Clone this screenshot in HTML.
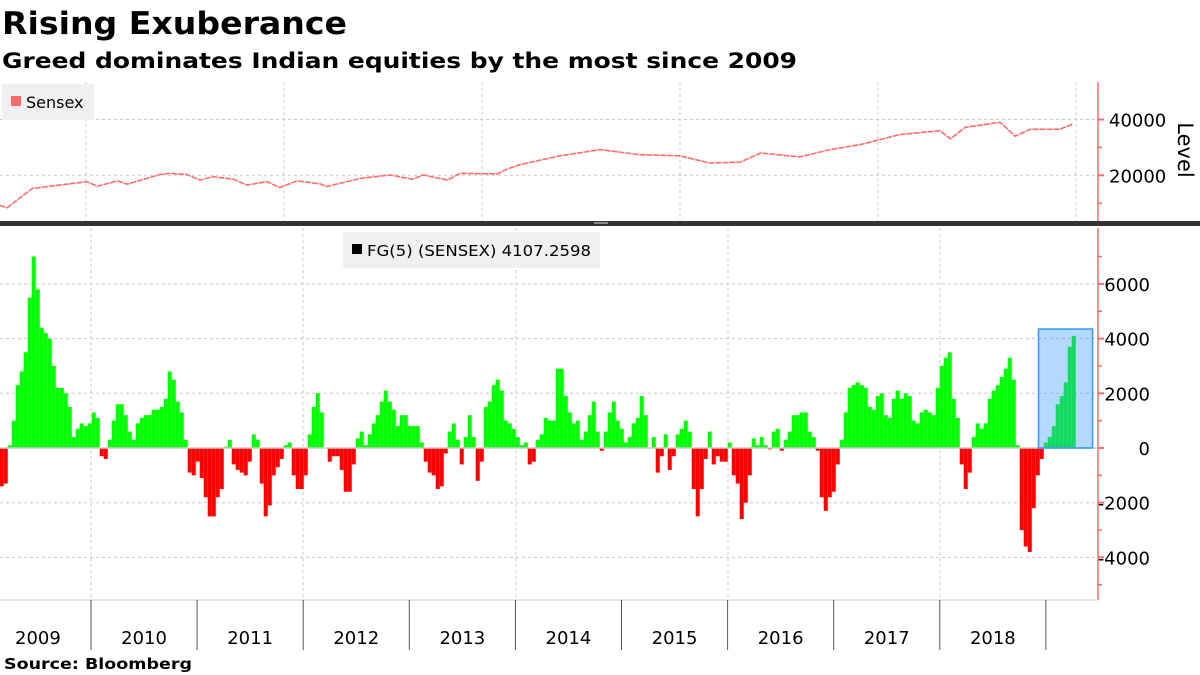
<!DOCTYPE html>
<html><head><meta charset="utf-8">
<style>
html,body{margin:0;padding:0;background:#fff;}
svg{display:block;font-family:"DejaVu Sans","Liberation Sans",sans-serif;}
</style></head>
<body>
<svg id="chart" width="1200" height="675" viewBox="0 0 1200 675" xmlns="http://www.w3.org/2000/svg">
<text x="2" y="34" font-size="31" font-weight="bold" textLength="345" lengthAdjust="spacingAndGlyphs">Rising Exuberance</text>
<text x="2" y="68" font-size="21" font-weight="bold" textLength="795" lengthAdjust="spacingAndGlyphs">Greed dominates Indian equities by the most since 2009</text>
<g id="topPanel"></g>
<g id="bottomPanel"></g>
<g id="xaxis"></g>
<text x="4" y="669" font-size="15" font-weight="bold" textLength="188" lengthAdjust="spacingAndGlyphs">Source: Bloomberg</text>
</svg>
<script>
const sensexYears=[2009.14,2009.21,2009.36,2009.45,2009.77,2009.96,2010.06,2010.25,2010.34,2010.65,2010.74,2010.90,2011.03,2011.15,2011.34,2011.47,2011.66,2011.78,2011.94,2012.16,2012.22,2012.54,2012.82,2013.03,2013.13,2013.36,2013.48,2013.83,2013.92,2014.04,2014.42,2014.80,2015.17,2015.55,2015.83,2016.12,2016.31,2016.68,2016.97,2017.25,2017.62,2018.00,2018.10,2018.24,2018.57,2018.71,2018.85,2019.13,2019.25];
const sensexValues=[9200,8400,12800,15300,16800,17700,16100,18000,16800,20300,20700,20300,18300,19500,18600,16500,17700,15600,18000,16900,16000,18900,20100,18600,20100,18300,20700,20500,22200,23800,27000,29200,27400,27000,24400,24700,28000,26600,29200,31000,34600,36000,33100,37200,39000,34000,36500,36500,38300];
const sensexTicks=[20000,40000];
const fgStartYear=2009.14;
const fgStepYears=0.0377;
const fgValues=[
-1.4,-1.3,0.1,1.0,2.3,2.8,3.5,5.5,7.0,5.8,4.4,4.2,4.0,3.0,2.2,2.2,2.0,1.5,0.4,0.7,0.9,0.8,0.9,1.3,1.1,-0.3,-0.4,0.3,1.0,1.6,1.6,1.2,0.6,0.3,0.9,1.1,1.2,1.2,1.4,1.4,1.5,1.8,2.8,2.5,1.7,1.3,0.3,-0.9,-1.0,-0.5,-1.1,-1.8,-2.5,-2.5,-1.8,-1.5,0.05,0.3,-0.6,-0.8,-0.9,-1.0,-0.5,0.5,0.3,-1.3,-2.5,-2.1,-1.0,-0.7,-0.4,0.1,0.2,-1.0,-1.5,-1.5,-1.0,0.5,1.5,2.0,1.3,0,-0.5,-0.3,-0.3,-0.8,-1.6,-1.6,-0.6,0.35,0.6,0.1,
0.5,0.9,1.2,1.7,2.1,1.7,1.4,0.8,1.2,1.2,0.8,0.8,0.8,0.2,-0.5,-0.9,-1.0,-1.5,-1.4,-0.2,0.6,0.9,0.3,-0.6,0.4,1.2,0.4,-1.2,-0.5,1.5,1.7,2.3,2.5,2.1,1.0,0.9,0.7,0.4,0.1,0.2,-0.6,-0.5,0.3,0.5,1.1,1.0,1.0,2.9,2.9,1.9,1.3,0.9,1.0,0.3,0.6,1.2,1.7,0.6,-0.1,0.6,1.3,1.7,1.0,0.7,0.2,0.4,0.9,1.1,1.9,1.2,0,0.4,-0.9,-0.3,0.5,-0.8,-0.3,0.5,0.7,1.0,0.6,-1.5,-2.5,-1.5,-0.4,0.6,-0.6,-0.3,-0.5,-0.5,
0.2,-1.0,-1.3,-2.6,-2.0,-1.0,0.35,0.1,0.4,0.1,-0.05,0.6,0.7,-0.1,0.3,0.6,1.2,1.2,1.3,1.3,0.6,0.4,-0.1,-1.8,-2.3,-1.8,-1.6,-0.6,0.3,1.3,2.2,2.3,2.4,2.3,2.2,1.5,1.4,1.9,2.0,1.2,1.1,1.8,2.1,1.8,2.0,1.9,1.0,0.9,1.3,1.4,1.3,1.2,2.2,3.0,3.3,3.5,1.8,1.1,-0.6,-1.5,-0.9,0.4,0.9,0.7,0.9,1.8,2.1,2.3,2.6,2.9,3.3,2.5,0.1,-3.0,-3.6,-3.8,-2.2,-1.0,-0.4,0.2,0.4,0.8,1.6,1.9,2.4,3.7,4.1];
const fgTicks=[-4000,-2000,0,2000,4000,6000];
const yearLabels=["2009","2010","2011","2012","2013","2014","2015","2016","2017","2018"];
const highlightStartYear=2018.93;
const highlightEndYear=2019.44;
const highlightTop=4350;

const NS="http://www.w3.org/2000/svg";
function mk(tag,attrs,parent){const e=document.createElementNS(NS,tag);for(const k in attrs)e.setAttribute(k,attrs[k]);parent.appendChild(e);return e;}
const PLOT_R=1098;
function xScale(yr){return 91+(yr-2010)*106.1;}
function yTop(v){return 175.3-(v-20000)*55.8/20000;}
function yBot(v){return 448-v*27.35/1000;}

// ---- top panel
const topG=document.getElementById('topPanel');
[86,284,482,680,878,1076].forEach(x=>{const l=mk('line',{x1:x,x2:x,y1:82,y2:221,stroke:'#c8c8c8','stroke-dasharray':'3,3'},topG);

});
sensexTicks.forEach(t=>{const y=yTop(t);
const g=mk('line',{x1:0,x2:PLOT_R,y1:y,y2:y,stroke:'#c8c8c8','stroke-dasharray':'3,3'},topG);


const tk=mk('line',{x1:PLOT_R,x2:PLOT_R+6,y1:y,y2:y,stroke:'#ff6b6b','stroke-width':2},topG);


const tx=mk('text',{x:1109,y:y+7,'font-size':18,fill:'#000'},topG);tx.textContent=t;

});
[30000,10000].forEach(t=>{const tk=mk('line',{x1:PLOT_R,x2:PLOT_R+4,y1:yTop(t),y2:yTop(t),stroke:'#ff6b6b','stroke-width':1.5},topG);

});
const ta=mk('line',{x1:PLOT_R,x2:PLOT_R,y1:82,y2:221,stroke:'#ff6b6b','stroke-width':1.5},topG);


const lv=mk('text',{x:1178,y:150,'font-size':21,transform:'rotate(90 1178 150)','text-anchor':'middle'},topG);lv.textContent='Level';


const pts=sensexYears.map((yr,i)=>xScale(yr).toFixed(1)+','+yTop(sensexValues[i]).toFixed(1)).join(' ');
const sl=mk('polyline',{points:pts,fill:'none',stroke:'#ff6b6b','stroke-width':1.6,'stroke-dasharray':'6,1'},topG);


const lg=mk('g',{},topG);


mk('rect',{x:2,y:84,width:92,height:36,fill:'#f0f0f0'},lg);
mk('rect',{x:11,y:96,width:10,height:10,fill:'#ff6b6b'},lg);
const lt=mk('text',{x:26,y:108,'font-size':16},lg);lt.textContent='Sensex';
const sep=mk('rect',{x:0,y:221,width:1200,height:5,fill:'#333'},topG);


mk('rect',{x:594,y:222,width:14,height:2,fill:'#888'},topG);

// ---- bottom panel
const botG=document.getElementById('bottomPanel');
[91,303,516,728,940].forEach(x=>{const l=mk('line',{x1:x,x2:x,y1:228,y2:600,stroke:'#c8c8c8','stroke-dasharray':'3,3'},botG);

});
fgTicks.forEach(t=>{const y=yBot(t);
if(t!==0){const g=mk('line',{x1:0,x2:PLOT_R,y1:y,y2:y,stroke:'#c8c8c8','stroke-dasharray':'3,3'},botG);

}
const tk=mk('line',{x1:PLOT_R,x2:PLOT_R+6,y1:y,y2:y,stroke:'#ff6b6b','stroke-width':2},botG);


const tx=mk('text',{x:1150,y:y+7,'font-size':18,'text-anchor':'end'},botG);tx.textContent=t;

});
[-5000,-3000,-1000,1000,3000,5000,7000].forEach(t=>{const tk=mk('line',{x1:PLOT_R,x2:PLOT_R+4,y1:yBot(t),y2:yBot(t),stroke:'#ff6b6b','stroke-width':1.5},botG);

});
const ba=mk('line',{x1:PLOT_R,x2:PLOT_R,y1:228,y2:600,stroke:'#ff6b6b','stroke-width':1.5},botG);


const bw=fgStepYears*106.1;
fgValues.forEach((v,i)=>{const x=xScale(fgStartYear+i*fgStepYears);const val=v*1000;
const y0=yBot(0),y1=yBot(val);
const r=mk('rect',{x:x.toFixed(2),y:Math.min(y0,y1).toFixed(2),width:bw.toFixed(2),height:Math.abs(y1-y0).toFixed(2),fill:val>=0?'#00ff00':'#ff0000'},botG);

});
const zl=mk('line',{x1:0,x2:PLOT_R,y1:yBot(0),y2:yBot(0),stroke:'#c8c8c8','stroke-width':1.5},botG);


const hx1=xScale(highlightStartYear),hx2=xScale(highlightEndYear);
const hl=mk('rect',{x:hx1,y:yBot(highlightTop),width:hx2-hx1,height:yBot(0)-yBot(highlightTop),fill:'rgb(51,153,255)','fill-opacity':0.37,stroke:'#3399ff','stroke-width':1.5},botG);


const bl=mk('g',{},botG);


mk('rect',{x:343,y:232,width:257,height:36,fill:'#f0f0f0'},bl);
mk('rect',{x:352,y:244,width:10,height:10,fill:'#000'},bl);
const bt=mk('text',{x:367,y:256,'font-size':15,textLength:224,lengthAdjust:'spacingAndGlyphs'},bl);bt.textContent='FG(5) (SENSEX) 4107.2598';

// ---- x axis
const xa=document.getElementById('xaxis');
mk('line',{x1:0,x2:PLOT_R,y1:600,y2:600,stroke:'#ccc'},xa);
yearLabels.forEach((lab,i)=>{const yr=2009+i;
const bx=xScale(yr+1);
const tk=mk('line',{x1:bx,x2:bx,y1:600,y2:650,stroke:'#555'},xa);


const tx=mk('text',{x:xScale(yr+0.5),y:644,'font-size':18,'text-anchor':'middle'},xa);tx.textContent=lab;

});
</script>
</body></html>
